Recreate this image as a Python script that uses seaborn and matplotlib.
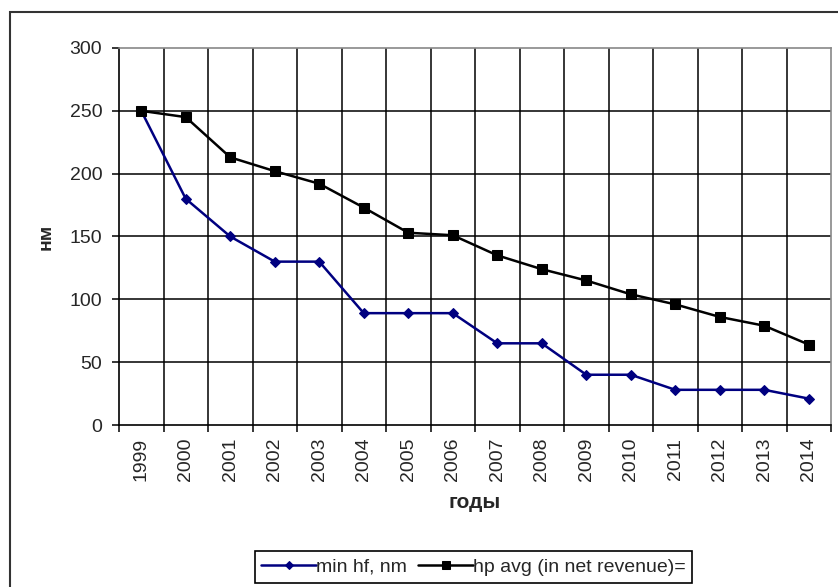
import numpy as np
import pandas as pd
import seaborn as sns
import matplotlib.pyplot as plt
from matplotlib.patches import Rectangle

# data
years = ["1999", "2000", "2001", "2002", "2003", "2004", "2005", "2006",
         "2007", "2008", "2009", "2010", "2011", "2012", "2013", "2014"]
min_hf = [250, 180, 150, 130, 130, 89, 89, 89, 65, 65, 40, 40, 28, 28, 28, 21]
hp_avg = [250, 245, 213, 202, 192, 173, 153, 151, 135, 124, 115, 104, 96, 86, 79, 64]
yticks = [0, 50, 100, 150, 200, 250, 300]

sns.set_style("white")
plt.rcParams['font.family'] = ['Liberation Sans', 'DejaVu Sans']

df = pd.DataFrame({"year": years, "min_hf": min_hf, "hp_avg": hp_avg})

fig = plt.figure(figsize=(8.38, 5.87), dpi=100)
ax = fig.add_axes([119/838, 1-425/587, (831-119)/838, (425-48)/587])

sns.lineplot(data=df, x="year", y="min_hf", ax=ax, color="#000080", lw=1.8,
             marker="D", markersize=5.5, markeredgecolor="#000080", sort=False,
             label="min hf, nm", zorder=4)
sns.lineplot(data=df, x="year", y="hp_avg", ax=ax, color="black", lw=1.8,
             marker="s", markersize=7.5, markeredgecolor="black", sort=False,
             label="hp avg (in net revenue)=", zorder=5)

n = len(years)
ax.set_xlim(-0.5, n - 0.5)
ax.set_ylim(0, 300)
ax.set_yticks(yticks)
ax.set_xticks(np.arange(n))
ax.set_xticklabels(years, rotation=90)
ax.set_xticks(np.arange(-0.5, n, 1), minor=True)

# Excel-like grid: black lines at category boundaries and y ticks
for b in np.arange(0.5, n - 0.5, 1):
    ax.axvline(b, color="black", lw=1.1, zorder=1)
for v in yticks[1:-1]:
    ax.axhline(v, color="black", lw=1.1, zorder=1)

ax.tick_params(axis="x", which="major", length=0, pad=9, labelsize=14)
ax.tick_params(axis="x", which="minor", length=5, width=1.1, color="black",
               direction="out", bottom=True)
ax.tick_params(axis="y", length=5, width=1.1, color="black", direction="out",
               left=True, pad=7, labelsize=14)

for s in ["left", "bottom"]:
    ax.spines[s].set_color("black")
    ax.spines[s].set_linewidth(1.2)
for s in ["top", "right"]:
    ax.spines[s].set_color("#888888")
    ax.spines[s].set_linewidth(1.2)

ax.set_xlabel("годы", fontsize=15, fontweight="bold")
ax.xaxis.set_label_coords(0.5, -0.18)
ax.set_ylabel("нм", fontsize=14, fontweight="bold")
ax.yaxis.set_label_coords(-0.09, 0.5)

ax.legend(loc="center", bbox_to_anchor=(473.5/838, 1-567/587),
          bbox_transform=fig.transFigure, ncol=2, fontsize=14,
          frameon=True, fancybox=False, edgecolor="black", framealpha=1,
          handlelength=2.8, handletextpad=0.0, columnspacing=0.6,
          borderpad=0.35, borderaxespad=0, markerscale=0.8)
ax.get_legend().get_frame().set_linewidth(1.2)

# outer chart border (runs off the right and bottom edges like the screenshot)
fig.add_artist(Rectangle((10/838, -0.1), 1.1, 1 - 12/587 + 0.1, fill=False,
                         transform=fig.transFigure, lw=1.5, ec="#333333"))

fig.savefig("out.png", dpi=100)
